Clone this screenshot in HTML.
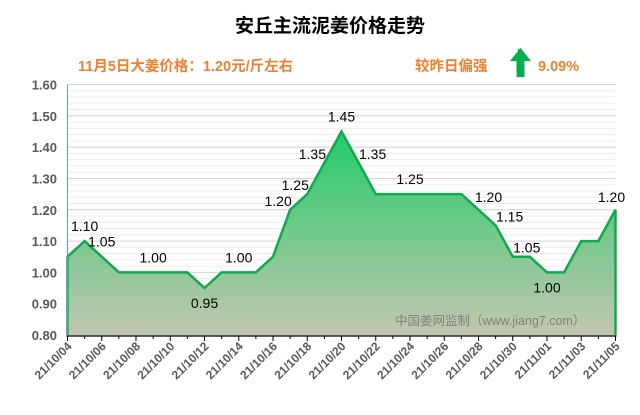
<!DOCTYPE html>
<html><head><meta charset="utf-8"><style>
body{margin:0;background:#fff;}
svg text{font-family:"Liberation Sans","Noto Sans CJK SC",sans-serif;}
</style></head><body>
<svg width="640" height="410" xmlns="http://www.w3.org/2000/svg">
<defs>
<linearGradient id="g" x1="0" y1="0" x2="0" y2="1">
<stop offset="0" stop-color="#22cc6a"/><stop offset="1" stop-color="#c3c7b0"/>
</linearGradient>
</defs>
<text x="330" y="32" text-anchor="middle" font-size="19" font-weight="bold" fill="#000">安丘主流泥姜价格走势</text>
<text x="78" y="71" font-size="14.5" font-weight="bold" fill="#f08030">11月5日大姜价格：1.20元/斤左右</text>
<text x="415" y="71" font-size="14.5" font-weight="bold" fill="#f08030">较昨日偏强</text>
<path d="M517,60 L529,60 L518,48 Z M512,60 L529,60 L520.5,48 Z" fill="#00b050"/>
<polygon points="520.5,48 531,61 524.5,61 524.5,77 516.5,77 516.5,61 510,61" fill="#00b050"/>
<text x="538" y="71" font-size="14.5" font-weight="bold" fill="#f08030">9.09%</text>
<g id="grid"></g>
<g id="plot"></g>
<g id="axes"></g>
<text x="395" y="325" font-size="12.5" fill="#7f7f7f">中国姜网监制（www.jiang7.com）</text>
</svg>
<script>
const dates=["21/10/04","21/10/05","21/10/06","21/10/07","21/10/08","21/10/09","21/10/10","21/10/11","21/10/12","21/10/13","21/10/14","21/10/15","21/10/16","21/10/17","21/10/18","21/10/19","21/10/20","21/10/21","21/10/22","21/10/23","21/10/24","21/10/25","21/10/26","21/10/27","21/10/28","21/10/29","21/10/30","21/10/31","21/11/01","21/11/02","21/11/03","21/11/04","21/11/05"];
const prices=[1.05,1.10,1.05,1.00,1.00,1.00,1.00,1.00,0.95,1.00,1.00,1.00,1.05,1.20,1.25,1.35,1.45,1.35,1.25,1.25,1.25,1.25,1.25,1.25,1.20,1.15,1.05,1.05,1.00,1.00,1.10,1.10,1.20];
const labelIdx=[1,2,5,8,10,13,14,15,16,17,20,24,25,26,28,32];
const yTicks=[0.80,0.90,1.00,1.10,1.20,1.30,1.40,1.50,1.60];
const ns="http://www.w3.org/2000/svg";
const X0=67.5,X1=615.5,Y0=335,Y1=84.5,vMin=0.8,vMax=1.6;
const x=i=>X0+(X1-X0)*i/(dates.length-1);
const y=v=>Y0-(Y0-Y1)*(v-vMin)/(vMax-vMin);
function mk(t,a,p){const e=document.createElementNS(ns,t);for(const k in a)e.setAttribute(k,a[k]);p.appendChild(e);return e;}
const grid=document.getElementById('grid'),plot=document.getElementById('plot'),axes=document.getElementById('axes');
for(let v=0.82;v<1.6;v+=0.02){const l=mk('line',{x1:X0,x2:X1,y1:y(v),y2:y(v),stroke:'#ececec','stroke-width':1},grid);

}
yTicks.forEach(v=>{const l=mk('line',{x1:X0,x2:X1,y1:y(v),y2:y(v),stroke:'#d4d4d4','stroke-width':1},grid);


const t=mk('text',{x:57,y:y(v)+5,'text-anchor':'end','font-size':13,'font-weight':'bold',fill:'#595959'},axes);


t.textContent=v.toFixed(2);});
let pts=prices.map((v,i)=>x(i)+','+y(v)).join(' ');
const area=mk('polygon',{points:X0+','+Y0+' '+pts+' '+X1+','+Y0,fill:'url(#g)'},plot);


const line=mk('polyline',{points:X0+','+Y0+' '+pts+' '+X1+','+Y0,fill:'none',stroke:'#12a84c','stroke-width':2.5,'stroke-linejoin':'miter'},plot);


labelIdx.forEach(i=>{const v=prices[i];let dy=-10,dx=0;
if(i===8||i===28){dy=20;}
if(i===13||i===14||i===15){dx=-12;dy=-4;}
if(i===17||i===25||i===26){dx=14;dy=-4;}
if(i===24){dx=10;dy=-8;}
if(i===32){dx=-4;dy=-8;}
const t=mk('text',{x:x(i)+dx,y:y(v)+dy,'text-anchor':'middle','font-size':14,fill:'#000'},plot);


t.textContent=v.toFixed(2);});
const ax=mk('line',{x1:X0,x2:X0,y1:Y1,y2:Y0,stroke:'#5b9bd5'},axes);


const bx=mk('line',{x1:X0-1,x2:X1+1,y1:Y0+1,y2:Y0+1,stroke:'#000','stroke-width':1.2},axes);


dates.forEach((d,i)=>{const tk=mk('line',{x1:x(i),x2:x(i),y1:Y0+1,y2:Y0+(i%2?4:6),stroke:'#000'},axes);


if(i%2===0){const t=mk('text',{x:x(i)+5,y:Y0+12,'text-anchor':'end','font-size':12,'font-weight':'bold',fill:'#595959',transform:'rotate(-45 '+(x(i)+5)+' '+(Y0+12)+')'},axes);


t.textContent=d;}});
</script>
</body></html>
